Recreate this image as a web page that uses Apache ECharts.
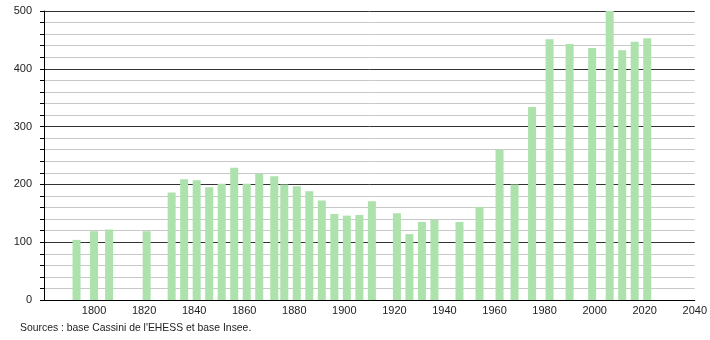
<!DOCTYPE html>
<html>
<head>
<meta charset="utf-8">
<script src="https://cdn.jsdelivr.net/npm/echarts@6/dist/echarts.min.js"></script>
<style>html,body{margin:0;padding:0;background:#fff}#c{width:710px;height:340px}</style>
</head>
<body>
<div id="c"></div>
<script>
var years = [1793,1800,1806,1821,1831,1836,1841,1846,1851,1856,1861,1866,1872,1876,1881,1886,1891,1896,1901,1906,1911,1921,1926,1931,1936,1946,1954,1962,1968,1975,1982,1990,1999,2006,2011,2016,2021];
var population = [104,119,122,119,186,209,207,195,201,229,201,218,214,200,197,188,172,149,146,147,171,150,114,135,139,135,161,260,200,334,451,443,436,500,432,447,453];
var sourceText = "Sources : base Cassini de l'EHESS et base Insee.";

var chart = echarts.init(document.getElementById('c'), null, {renderer: 'canvas'});
var font = 'Liberation Sans, Arial, sans-serif';
chart.setOption({
  animation: false,
  grid: {left: 44, right: 9, top: 11, bottom: 40, containLabel: false},
  xAxis: {
    type: 'value', min: 1780, max: 2040, interval: 20,
    axisLine: {show: true, lineStyle: {color: '#000', width: 1}},
    axisTick: {show: false},
    splitLine: {show: false},
    axisLabel: {showMinLabel: false, margin: 5, color: '#222', fontFamily: font, fontSize: 11,
      formatter: function(v){ return v === 1780 ? '' : String(v); }}
  },
  yAxis: {
    type: 'value', min: 0, max: 500, interval: 100,
    axisLine: {show: true, lineStyle: {color: '#000', width: 1}},
    axisTick: {show: true, length: 4, lineStyle: {color: '#000'}},
    minorTick: {show: true, splitNumber: 5, length: 4, lineStyle: {color: '#000'}},
    splitLine: {show: true, lineStyle: {color: '#333', width: 1}},
    minorSplitLine: {show: true, lineStyle: {color: '#c8c8c8', width: 1}},
    axisLabel: {margin: 12, color: '#222', fontFamily: font, fontSize: 11}
  },
  series: [{
    type: 'bar',
    barWidth: 8,
    itemStyle: {color: '#ade2ad'},
    data: years.map(function(y, i){ return [y, population[i]]; })
  }],
  graphic: [{
    type: 'text', left: 20, top: 323,
    style: {text: sourceText, font: '10.4px Liberation Sans, Arial, sans-serif', fill: '#222'}
  }]
});
</script>
</body>
</html>
